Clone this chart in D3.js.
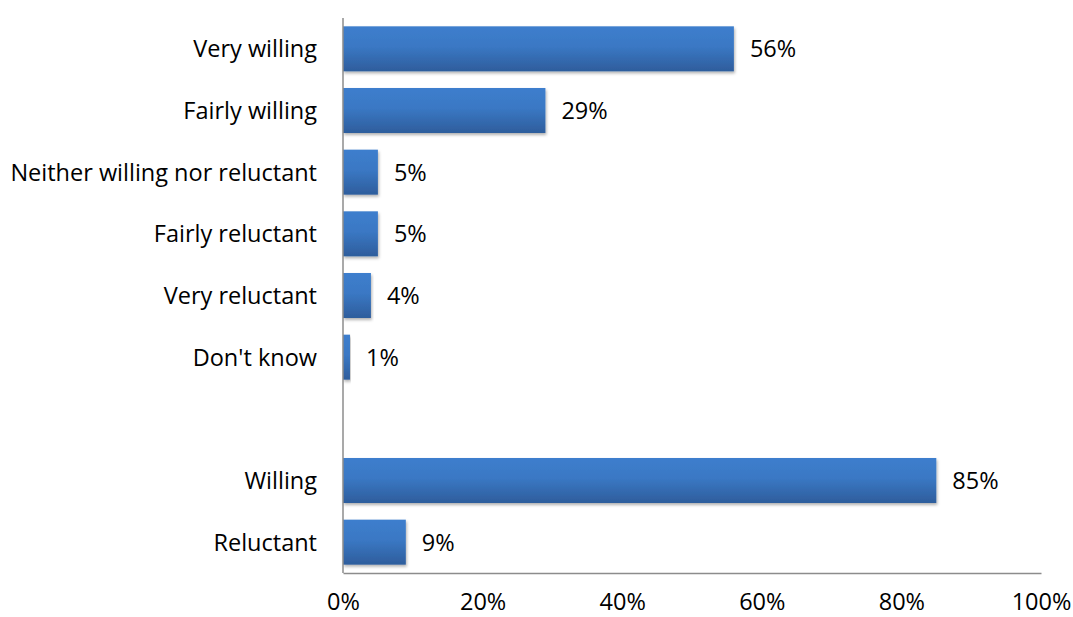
<!DOCTYPE html>
<html>
<head>
<meta charset="utf-8">
<script src="https://cdn.jsdelivr.net/npm/d3@7"></script>
<style>
  html, body { margin: 0; padding: 0; background: #fff; }
  svg { display: block; }
  text { font-family: "Open Sans", "Noto Sans", sans-serif; fill: #000; }
</style>
</head>
<body>
<svg id="chart" width="1073" height="617"></svg>
<script>
// Response categories, top to bottom; the empty entry is the spacer row
const categories = ["Very willing", "Fairly willing", "Neither willing nor reluctant",
  "Fairly reluctant", "Very reluctant", "Don't know", "", "Willing", "Reluctant"];
const values = [56, 29, 5, 5, 4, 1, null, 85, 9];
const tickValues = [0, 20, 40, 60, 80, 100];

const svg = d3.select("#chart");
const plot = { left: 343, right: 1041, top: 18, bottom: 573 };
const fontSize = 23.5;

const x = d3.scaleLinear().domain([0, 100]).range([plot.left, plot.right]);
const y = d3.scaleBand().domain(categories.map((c, i) => i)).range([plot.top, plot.bottom])
  .paddingInner(0.27).paddingOuter(0.135);

const defs = svg.append("defs");
const grad = defs.append("linearGradient").attr("id", "barFill")
  .attr("x1", 0).attr("y1", 0).attr("x2", 0).attr("y2", 1);
grad.append("stop").attr("offset", "0%").attr("stop-color", "#3d7ecd");
grad.append("stop").attr("offset", "45%").attr("stop-color", "#3a78c4");
grad.append("stop").attr("offset", "100%").attr("stop-color", "#2e5d9c");

const shadow = defs.append("filter").attr("id", "shadow")
  .attr("x", "-5%").attr("y", "-20%").attr("width", "115%").attr("height", "150%");
shadow.append("feDropShadow").attr("dx", 1).attr("dy", 2).attr("stdDeviation", 1.5)
  .attr("flood-color", "#000").attr("flood-opacity", 0.3);

const rows = categories.map((c, i) => ({ c, v: values[i], i }));
const data = rows.filter(d => d.v !== null);

// Bars
svg.append("g").selectAll("rect").data(data).join("rect")
  .attr("x", x(0))
  .attr("y", d => y(d.i))
  .attr("width", d => x(d.v) - x(0))
  .attr("height", y.bandwidth())
  .attr("fill", "url(#barFill)")
  .attr("filter", "url(#shadow)");

// Value labels
svg.append("g").selectAll("text").data(data).join("text")
  .attr("x", d => x(d.v) + 16)
  .attr("y", d => y(d.i) + y.bandwidth() / 2)
  .attr("dy", "0.36em")
  .attr("font-size", fontSize)
  .text(d => d.v + "%");

// Category labels
svg.append("g").selectAll("text").data(data).join("text")
  .attr("x", plot.left - 26)
  .attr("y", d => y(d.i) + y.bandwidth() / 2)
  .attr("dy", "0.36em")
  .attr("text-anchor", "end")
  .attr("font-size", fontSize)
  .text(d => d.c);

// Axes
const xAxis = d3.axisBottom(x).tickValues(tickValues).tickSize(0)
  .tickFormat(d => d + "%").tickPadding(20);
const gx = svg.append("g").attr("transform", `translate(0,${plot.bottom})`).call(xAxis);
gx.select(".domain").attr("stroke", "#8c8c8c").attr("stroke-width", 1.5);
gx.selectAll("text").attr("font-size", fontSize)
  .attr("font-family", "'Open Sans', 'Noto Sans', sans-serif").attr("fill", "#000");

svg.append("line")
  .attr("x1", plot.left).attr("x2", plot.left).attr("y1", plot.top).attr("y2", plot.bottom)
  .attr("stroke", "#8c8c8c").attr("stroke-width", 1.5);
</script>
</body>
</html>
